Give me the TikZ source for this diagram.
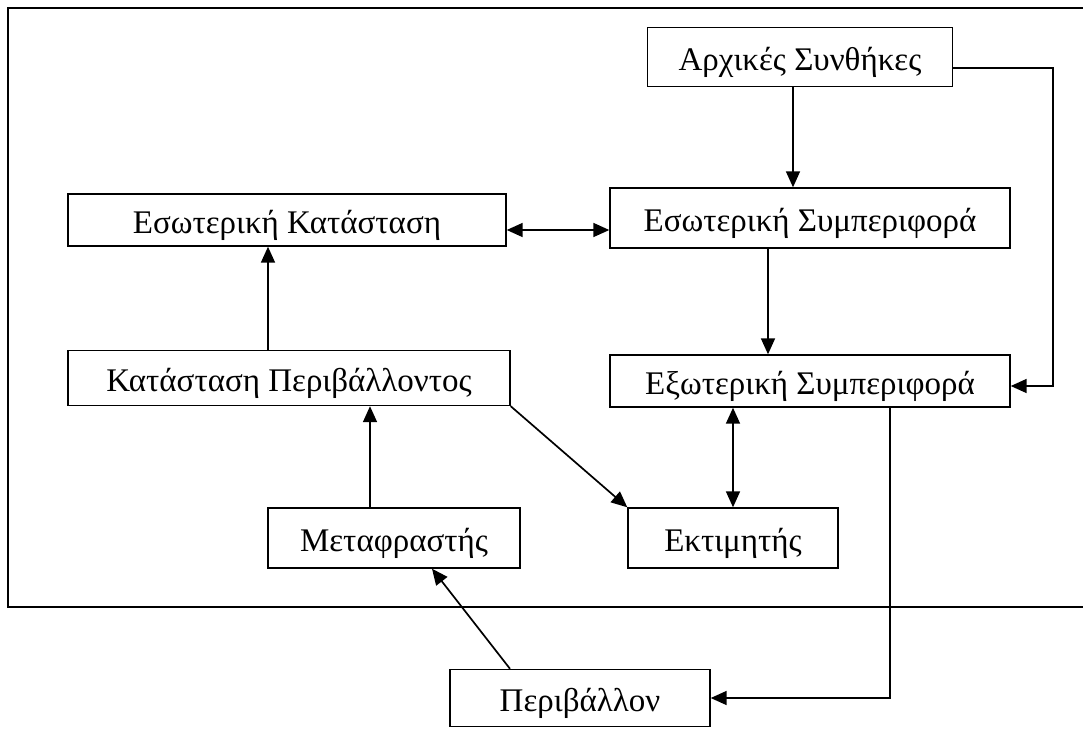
\documentclass[tikz,border=0pt]{standalone}
\usepackage{fontspec}
\setmainfont{Liberation Serif}
\usetikzlibrary{arrows.meta}
\tikzset{
  box/.style={draw, line width=1.4pt, fill=white, inner sep=0pt, text height=32pt, text depth=6pt,
    font=\fontsize{33}{38}\selectfont},
  arr/.style={line width=1.7pt, -{Triangle[length=16pt,width=14pt]}},
  darr/.style={line width=1.7pt, {Triangle[length=16pt,width=14pt]}-{Triangle[length=16pt,width=14pt]}},
}
\begin{document}
\begin{tikzpicture}[x=1pt, y=-1pt]
\useasboundingbox (0,0) rectangle (1083,729);
\fill[white] (0,0) rectangle (1083,729);
% enclosing frame (open on the right)
\draw[line width=1.6pt] (1095,8) -- (8,8) -- (8,607) -- (1095,607);

\node[box, minimum width=305pt, minimum height=59pt] (ac) at (800,57) {Αρχικές Συνθήκες};
\node[box, minimum width=438pt, minimum height=52pt] (ek) at (287,220) {Εσωτερική Κατάσταση};
\node[box, minimum width=400pt, minimum height=60pt] (es) at (810,218) {Εσωτερική Συμπεριφορά};
\node[box, minimum width=442pt, minimum height=55pt] (kp) at (289,378) {Κατάσταση Περιβάλλοντος};
\node[box, minimum width=400pt, minimum height=52pt] (ex) at (810,381) {Εξωτερική Συμπεριφορά};
\node[box, minimum width=252pt, minimum height=60pt] (mf) at (394,538) {Μεταφραστής};
\node[box, minimum width=210pt, minimum height=60pt] (et) at (733,538) {Εκτιμητής};
\node[box, minimum width=260pt, minimum height=57pt] (pe) at (580,698) {Περιβάλλον};

\coordinate (exb) at ([xshift=-77pt]ex.south);
\coordinate (exr) at ([xshift=80pt]ex.south);

\draw[arr] ([xshift=-7pt]ac.south) -- ([xshift=-17pt]es.north);
\draw[arr] ([yshift=-11pt]ac.east) -- ++(100,0) |- ([yshift=-5pt]ex.east);
\draw[darr] ([yshift=-10pt]ek.east) -- ([yshift=-12pt]es.west);
\draw[arr] ([xshift=-42pt]es.south) -- ([xshift=-42pt]ex.north);
\draw[arr] ([xshift=-21pt]kp.north) -- ([xshift=-19pt]ek.south);
\draw[arr] ([xshift=-24pt]mf.north) -- ([xshift=81pt]kp.south);
\draw[arr] (kp.south east) -- (et.north west);
\draw[darr] (exb) -- (exb |- et.north);
\draw[arr] (exr) |- (pe.east);
\draw[arr] ([xshift=-70pt]pe.north) -- ([xshift=38pt]mf.south);
\end{tikzpicture}
\end{document}
